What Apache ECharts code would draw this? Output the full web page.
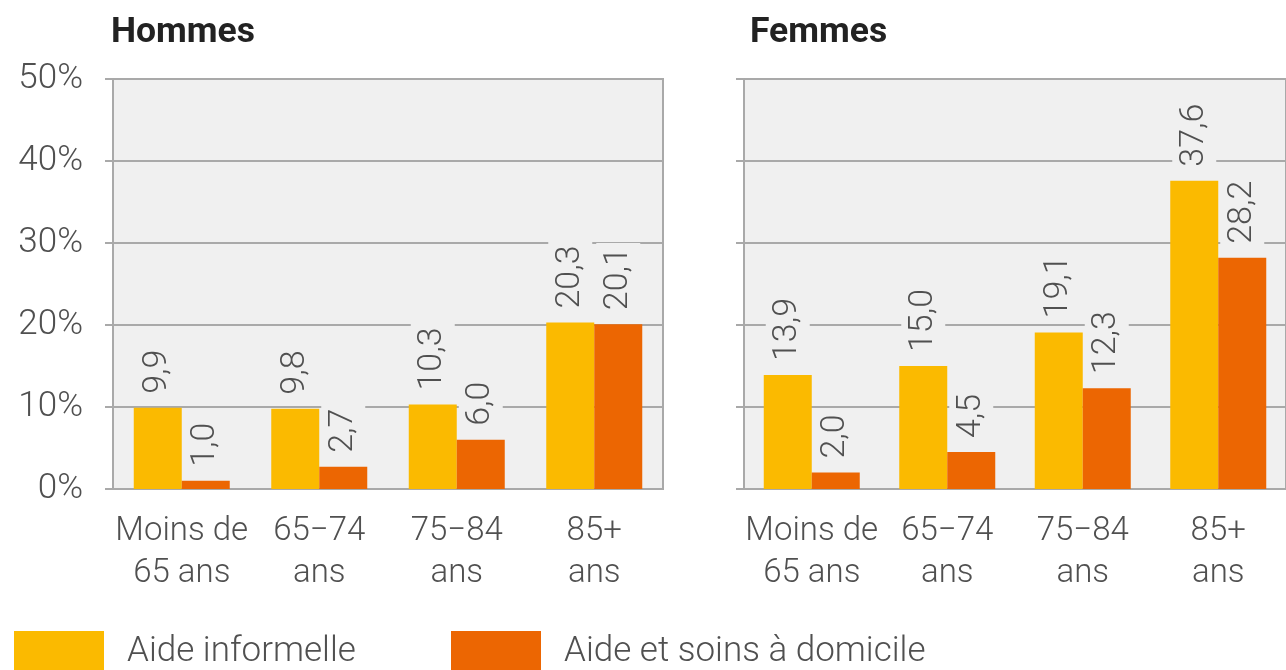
<!DOCTYPE html>
<html>
<head>
<meta charset="utf-8">
<title>Aide informelle et soins à domicile</title>
<script src="https://cdn.jsdelivr.net/npm/echarts@6/dist/echarts.min.js"></script>
<style>
  html, body { margin: 0; padding: 0; background: #fff; }
  #chart { width: 1286px; height: 670px; }
</style>
</head>
<body>
<div id="chart"></div>
<script>
// catégories d'âge (axe x)
const categories = ["Moins de\n65 ans", "65\u221274\nans", "75\u221284\nans", "85+\nans"];
const yTicks = [0, 10, 20, 30, 40, 50];

// valeurs en %
const hommesInformelle = [9.9, 9.8, 10.3, 20.3];
const hommesDomicile = [1.0, 2.7, 6.0, 20.1];
const femmesInformelle = [13.9, 15.0, 19.1, 37.6];
const femmesDomicile = [2.0, 4.5, 12.3, 28.2];

const seriesNames = ["Aide informelle", "Aide et soins à domicile"];
const colors = ["#fbba00", "#ec6602"];

const font = "Roboto";
const gridColor = "#a9a9a9";
const plotBg = "#f0f0f0";
const textColor = "#505050";

const chart = echarts.init(document.getElementById("chart"));

function makeBar(name, data, idx, color) {
  return {
    name: name,
    type: "bar",
    xAxisIndex: idx,
    yAxisIndex: idx,
    data: data,
    barWidth: 48,
    barGap: "0%",
    itemStyle: { color: color },
    label: {
      show: true,
      position: "top",
      rotate: 90,
      align: "left",
      verticalAlign: "middle",
      distance: 10,
      fontFamily: font,
      fontSize: 34,
      fontWeight: 300,
      color: textColor,
      backgroundColor: plotBg,
      padding: [5, 4, 5, 4],
      formatter: (p) => p.value.toFixed(1).replace(".", ","),
    },
  };
}

function makeYAxis(idx, showLabels) {
  return {
    type: "value",
    gridIndex: idx,
    min: yTicks[0],
    max: yTicks[yTicks.length - 1],
    interval: 10,
    axisLine: { show: true, lineStyle: { color: gridColor, width: 2 } },
    axisTick: { show: true, length: 8, lineStyle: { color: gridColor, width: 2 } },
    splitLine: { show: true, lineStyle: { color: gridColor, width: 2 } },
    axisLabel: {
      show: showLabels,
      margin: 30,
      fontFamily: font,
      fontSize: 35,
      fontWeight: 300,
      color: textColor,
      formatter: "{value}%",
    },
  };
}

function makeXAxis(idx) {
  return {
    type: "category",
    gridIndex: idx,
    data: categories,
    axisLine: { show: true, lineStyle: { color: gridColor, width: 2 } },
    axisTick: { show: false },
    axisLabel: {
      margin: 22,
      interval: 0,
      fontFamily: font,
      fontSize: 33,
      fontWeight: 300,
      lineHeight: 42,
      color: textColor,
    },
  };
}

const legendText = {
  fontFamily: font,
  fontSize: 35,
  fontWeight: 300,
  color: textColor,
  padding: [0, 0, 0, 18],
};

const titleStyle = { fontFamily: font, fontSize: 35.5, fontWeight: "bold", color: "#222" };

const option = {
  animation: false,
  title: [
    { text: "Hommes", left: 106, top: 10, textStyle: titleStyle },
    { text: "Femmes", left: 745, top: 10, textStyle: titleStyle },
  ],
  legend: [
    {
      data: [seriesNames[0]],
      left: 14,
      top: 631,
      padding: 0,
      itemWidth: 90,
      itemHeight: 42,
      icon: "rect",
      textStyle: legendText,
    },
    {
      data: [seriesNames[1]],
      left: 451,
      top: 631,
      padding: 0,
      itemWidth: 90,
      itemHeight: 42,
      icon: "rect",
      textStyle: legendText,
    },
  ],
  grid: [
    { left: 113, top: 79, width: 550, height: 410, show: true, backgroundColor: plotBg, borderColor: gridColor, borderWidth: 2 },
    { left: 744, top: 79, width: 554, height: 410, show: true, backgroundColor: plotBg, borderColor: gridColor, borderWidth: 2 },
  ],
  xAxis: [makeXAxis(0), makeXAxis(1)],
  yAxis: [makeYAxis(0, true), makeYAxis(1, false)],
  series: [
    makeBar(seriesNames[0], hommesInformelle, 0, colors[0]),
    makeBar(seriesNames[1], hommesDomicile, 0, colors[1]),
    makeBar(seriesNames[0], femmesInformelle, 1, colors[0]),
    makeBar(seriesNames[1], femmesDomicile, 1, colors[1]),
  ],
};

chart.setOption(option);
</script>
</body>
</html>
